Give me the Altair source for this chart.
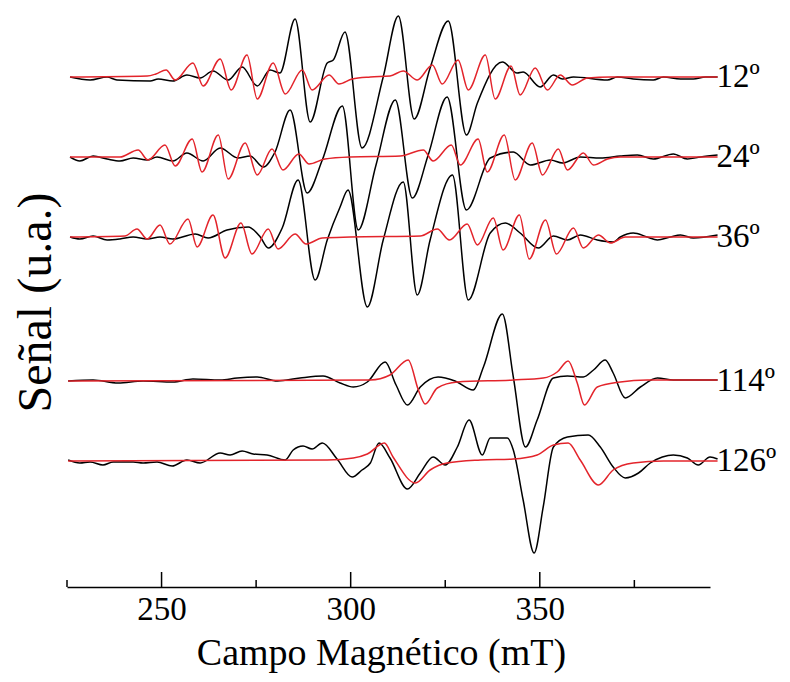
import altair as alt
import pandas as pd

# ---------------- data (field in mT, signal in arbitrary units, positive up) -------------
labels = ["12º", "24º", "36º", "114º", "126º"]
offsets = [510, 430, 350, 206, 126]

b12_x = [225.8, 231.1, 235.6, 238.2, 247.0, 249.1, 253.0, 256.7, 260.2, 263.6, 267.6, 271.3, 275.3, 278.7, 281.3,
         285.3, 289.3, 293.8, 295.4, 298.5, 303.0, 308.6, 312.6, 316.8, 321.0, 325.8, 330.6, 333.5, 340.1, 344.0,
         345.6, 350.1, 353.6, 356.0, 358.9, 367.9, 370.5, 374.7, 380.0, 382.7, 387.2, 390.6, 393.8, 397.0]
b12_y = [0, -3, 0, -3, -4, -2, -4, 2, -1, 6, -3, 10, -9, 7, 4,
         58, -45, 14, 17, 45, -71, 0, 61, -42, 9, 56, -58, -26, 15, 4,
         5, -10, 2, -2, 0, -3, 0, -2, -3, 0, -2, -2, 0, 0]
r12_x = [225.8, 246.2, 248.5, 251.2, 253.6, 258.3, 261.0, 265.5, 268.4, 272.6, 275.3, 279.5, 282.7, 287.2, 289.8,
         294.3, 296.9, 300.4, 305.2, 310.4, 313.9, 317.6, 321.6, 324.2, 328.4, 331.1, 335.6, 338.2, 342.4, 344.8,
         348.8, 352.0, 355.4, 358.6, 362.6, 368.7, 397.0]
r12_y = [0, 1, 3, 7, -3, 14, -9, 18, -13, 22, -22, 14, -17, 7, -13,
         2, -7, -2, 0, 1, 6, -3, 12, -7, 17, -13, 22, -22, 11, -18,
         9, -13, 2, -8, -1, 0, 0]

b24_x = [225.8, 228.4, 231.9, 235.6, 239.0, 242.5, 246.2, 248.8, 253.0, 256.7, 261.0, 265.5, 270.2, 273.4, 276.9,
         280.0, 284.0, 288.5, 292.5, 297.8, 302.0, 306.7, 311.8, 316.3, 320.5, 325.5, 330.6, 336.9, 343.0, 347.5,
         352.8, 356.0, 360.7, 366.0, 371.3, 375.8, 380.0, 385.3, 389.0, 392.5, 397.0]
b24_y = [0, -4, 1, -2, -4, -1, -3, 0, -4, 4, -4, 9, -1, 1, -10,
         5, 47, -36, -3, 51, -73, -8, 57, -41, 2, 60, -53, -1, 5, -8,
         -3, -6, 0, -1, 1, 2, -2, 3, -2, 0, 2]
r24_x = [225.8, 239.0, 243.8, 246.4, 250.9, 253.6, 258.1, 260.7, 265.0, 267.6, 272.1, 275.3, 279.2, 282.1, 286.3,
         289.0, 293.2, 299.9, 313.1, 319.2, 321.8, 326.6, 329.0, 333.7, 336.1, 340.6, 343.5, 348.0, 350.7, 354.9,
         357.3, 361.5, 364.2, 367.9, 371.3, 397.0]
r24_y = [0, 0, 7, -3, 12, -9, 18, -15, 22, -22, 14, -18, 8, -13, 3,
         -7, -2, 0, 1, 7, -4, 12, -8, 18, -15, 22, -23, 14, -18, 8,
         -13, 4, -8, -2, 0, 0]

b36_x = [225.8, 228.4, 231.9, 235.6, 239.0, 242.5, 246.2, 249.6, 253.0, 258.9, 262.3, 267.3, 272.9, 276.1, 278.2,
         281.9, 286.1, 290.6, 293.8, 297.2, 299.3, 304.4, 308.6, 313.9, 317.6, 321.0, 326.9, 331.1, 336.9, 340.9,
         344.8, 349.6, 353.6, 357.3, 360.7, 365.2, 369.4, 371.3, 374.7, 378.4, 381.1, 384.5, 387.2, 390.6, 397.0]
b36_y = [0, -2, 1, -3, -2, 0, -2, 0, -2, 3, -1, 7, 10, 0, -11,
         9, 57, -43, -3, 30, 47, -70, -3, 55, -58, -3, 62, -63, 4, 14,
         4, -11, 1, -3, 2, -3, -5, 0, 4, 0, -3, 0, 2, -1, 2]
r36_x = [225.8, 240.3, 243.5, 246.2, 249.6, 252.2, 257.0, 259.4, 263.6, 266.8, 271.0, 273.9, 278.2, 280.8, 285.3,
         288.2, 292.5, 299.9, 318.4, 322.9, 326.1, 330.8, 333.5, 337.7, 340.3, 344.6, 347.2, 351.5, 354.4, 358.9,
         361.5, 365.5, 368.7, 372.6, 397.0]
r36_y = [0, 1, 8, -2, 12, -7, 18, -10, 22, -21, 14, -17, 8, -12, 3,
         -7, -1, 0, 1, 8, -3, 13, -8, 19, -13, 22, -22, 17, -17, 9,
         -11, 2, -6, 0, 0]

b114_x = [225.3, 231.9, 238.5, 245.1, 253.0, 258.3, 265.5, 270.0, 275.3, 280.6, 286.6, 292.7, 297.2, 300.7, 304.4,
          309.1, 312.0, 315.0, 318.4, 323.1, 327.6, 332.4, 335.1, 340.1, 343.0, 346.2, 349.3, 353.6, 357.3, 361.5,
          364.2, 367.3, 369.4, 372.6, 376.6, 381.1, 385.3, 397.0]
b114_y = [0, 1, -2, 0, -1, 2, 1, 3, 4, 0, 3, 5, -2, -6, -1,
          19, -4, -24, -6, 4, 0, -9, 14, 67, 4, -66, -39, 3, 5, 4,
          11, 21, 8, -17, -6, 3, 1, 1]
r114_x = [225.3, 305.2, 310.4, 315.2, 317.9, 319.7, 322.9, 328.2, 343.0, 350.9, 354.6, 357.5, 359.9, 361.8, 365.2,
          371.3, 378.4, 397.0]
r114_y = [0, 1, 6, 21, -9, -23, -7, -1, 1, 3, 9, 20, -2, -24, -6,
          -1, 1, 1]

b126_x = [225.3, 228.4, 231.1, 234.5, 237.2, 242.5, 245.1, 248.8, 252.8, 256.7, 260.2, 265.5, 268.1, 271.3, 274.2,
          277.9, 282.7, 284.8, 287.4, 289.8, 292.5, 296.4, 300.4, 303.0, 305.2, 307.5, 310.4, 315.0, 318.4, 321.8,
          325.0, 328.2, 331.3, 334.8, 336.9, 341.4, 343.0, 345.6, 348.5, 350.9, 353.6, 357.3, 362.8, 366.0, 369.4,
          372.6, 376.1, 379.2, 382.4, 385.3, 389.0, 391.9, 395.0, 397.0]
b126_y = [1, -2, -1, -4, -1, -1, -2, -1, -5, 1, -2, 8, 6, 10, 7,
          6, 1, 11, 15, 12, 18, 2, -16, -9, -2, 18, 3, -28, -12, 4,
          -4, 14, 41, 6, 23, 23, 11, -39, -92, -46, 14, 24, 26, 14, -6,
          -17, -12, -2, 4, 6, 3, -4, 4, 2]
r126_x = [225.3, 293.8, 300.7, 304.4, 308.9, 311.2, 317.1, 321.0, 325.5, 334.3, 343.0, 349.3, 353.6, 357.5, 360.7,
          365.5, 369.4, 374.7, 382.7, 397.0]
r126_y = [0, 1, 3, 7, 18, 4, -22, -9, -2, 1, 2, 6, 16, 18, 1,
          -24, -9, -2, 0, 0]

x_ticks_major = [250, 300, 350]
x_ticks_minor = [225, 275, 325, 375]
label_field = 396.7  # field value where the angle labels start

# ---------------- assemble long table -------------------------------------------
series = [
    ("12º", "exp", b12_x, b12_y), ("12º", "sim", r12_x, r12_y),
    ("24º", "exp", b24_x, b24_y), ("24º", "sim", r24_x, r24_y),
    ("36º", "exp", b36_x, b36_y), ("36º", "sim", r36_x, r36_y),
    ("114º", "exp", b114_x, b114_y), ("114º", "sim", r114_x, r114_y),
    ("126º", "exp", b126_x, b126_y), ("126º", "sim", r126_x, r126_y),
]
off = dict(zip(labels, offsets))
rows = []
for ang, kind, xs, ys in series:
    for i, (xv, yv) in enumerate(zip(xs, ys)):
        rows.append({"angle": ang, "kind": kind, "key": ang + kind, "order": i,
                     "field": xv, "signal": off[ang] + yv})
df = pd.DataFrame(rows)
lab_df = pd.DataFrame({"label": labels, "signal": offsets, "field": [label_field] * len(labels)})
tick_df = pd.DataFrame({"field": x_ticks_major + x_ticks_minor,
                        "base": [0] * (len(x_ticks_major) + len(x_ticks_minor)),
                        "len": [15] * len(x_ticks_major) + [7] * len(x_ticks_minor)})

FONT = "Liberation Serif"
xscale = alt.Scale(domain=[225, 395], nice=False, zero=False)
yscale = alt.Scale(domain=[0, 579], nice=False, zero=False)

lines = alt.Chart(df).mark_line(strokeWidth=1.5, interpolate="monotone", clip=False).encode(
    x=alt.X("field:Q", scale=xscale,
            axis=alt.Axis(values=x_ticks_major, ticks=False, grid=False, domain=True,
                          domainColor="black", domainWidth=1.5, format="d",
                          labelFont=FONT, labelFontSize=33, labelColor="black", labelPadding=6,
                          title="Campo Magnético (mT)", titleFont=FONT, titleFontSize=38,
                          titleFontWeight="normal", titleColor="black",
                          titleBaseline="alphabetic", titleX=314, titleY=77)),
    y=alt.Y("signal:Q", scale=yscale,
            axis=alt.Axis(labels=False, ticks=False, domain=False, grid=False,
                          title="Señal (u.a.)", titleFont=FONT, titleFontSize=48,
                          titleFontWeight="normal", titleColor="black",
                          titleBaseline="alphabetic", titleAngle=270, titleX=-17, titleY=294)),
    color=alt.Color("kind:N", scale=alt.Scale(domain=["exp", "sim"], range=["#000000", "#e3242b"]),
                    legend=None),
    detail="key:N",
    order="order:Q",
)

ticks = alt.Chart(tick_df).mark_rule(color="black", strokeWidth=1.5).encode(
    x=alt.X("field:Q", scale=xscale),
    y=alt.Y("base:Q", scale=yscale),
    y2="len:Q",
)

texts = alt.Chart(lab_df).mark_text(align="left", baseline="middle", font=FONT, fontSize=33,
                                    color="black").encode(
    x=alt.X("field:Q", scale=xscale),
    y=alt.Y("signal:Q", scale=yscale),
    text="label:N",
)

chart = alt.layer(lines, ticks, texts).properties(
    width=643, height=579,
    autosize=alt.AutoSizeParams(type="none"),
    padding={"left": 59, "top": 0, "right": 72, "bottom": 87},
).configure(background="white", view=alt.ViewConfig(stroke="transparent"))

chart.save("out.html", embed_options={"renderer": "svg", "actions": False})
